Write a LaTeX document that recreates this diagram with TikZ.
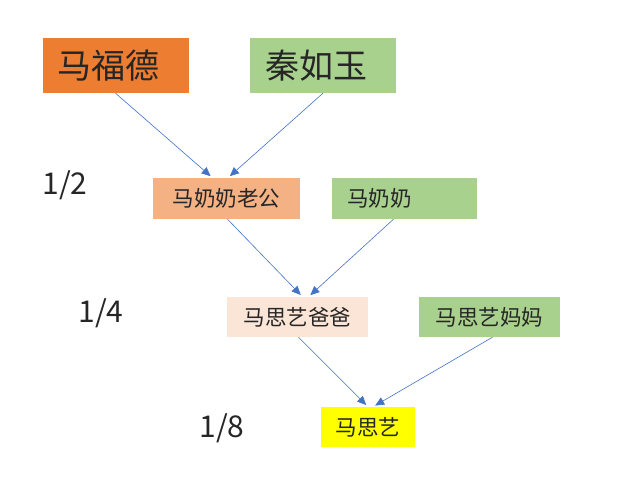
\documentclass[tikz,border=0pt]{standalone}
\usepackage{fontspec}
\newfontfamily\cjk{Noto Sans CJK SC}
\usetikzlibrary{arrows.meta}
\definecolor{orangebox}{HTML}{ED7D31}
\definecolor{greenbox}{HTML}{A9D18E}
\definecolor{peachbox}{HTML}{F4B183}
\definecolor{palebox}{HTML}{FBE5D6}
\definecolor{yellowbox}{HTML}{FFFF00}
\definecolor{linkblue}{HTML}{4472C4}
\definecolor{inktext}{HTML}{262626}
\tikzset{
  bigbox/.style={inner ysep=0pt, inner xsep=15pt, text width=116pt, align=left,
    minimum height=55pt, text=inktext, font=\cjk\fontsize{34pt}{36pt}\selectfont},
  smallbox/.style={inner sep=0pt, minimum width=143pt, minimum height=40pt,
    text=inktext, font=\cjk\fontsize{21.5pt}{24pt}\selectfont},
  ratio/.style={inner sep=0pt, text=inktext, font=\cjk\fontsize{30pt}{32pt}\selectfont},
  link/.style={draw=linkblue, line width=0.6pt,
    -{Triangle[length=9pt,width=8pt]}, shorten >=2.5pt}
}
\begin{document}
\begin{tikzpicture}[x=1pt,y=-1pt]
       \useasboundingbox[fill=white] (0,0) rectangle (640,486);
       % grandparents
       \node[bigbox, fill=orangebox] (mafude) at (115.5,65.5) {马福德};
       \node[bigbox, fill=greenbox] (qinruyu) at (323,65.5) {秦如玉};
       % second generation
       \node[smallbox, fill=peachbox, minimum width=147pt, minimum height=41pt] (laogong) at (226.5,198.5) {马奶奶老公};
       \node[smallbox, fill=greenbox, minimum height=41pt, inner xsep=15pt,
         text width=115pt, align=left] (nainai) at (404.5,198.5) {马奶奶};
       % third generation
       \node[smallbox, fill=palebox, minimum width=141pt] (baba) at (297.5,317) {马思艺爸爸};
       \node[smallbox, fill=greenbox, minimum width=141pt] (mama) at (489.5,317) {马思艺妈妈};
       % child
       \node[smallbox, fill=yellowbox, minimum width=94pt] (masiyi) at (368,427) {马思艺};
       % shares
       \node[ratio] (half) at (65,185) {1/2};
       \node[ratio] (quarter) at (101,313) {1/4};
       \node[ratio] (eighth) at (222,428) {1/8};
       \draw[link] (mafude.south) -- ([xshift=-14pt]laogong.north);
       \draw[link] (qinruyu.south) -- ([xshift=1.5pt]laogong.north);
       \draw[link] ([xshift=1pt]laogong.south) -- ([xshift=5pt]baba.north);
       \draw[link] ([xshift=-11pt]nainai.south) -- ([xshift=11pt]baba.north);
       \draw[link] ([xshift=1pt]baba.south) -- ([xshift=0pt]masiyi.north);
       \draw[link] ([xshift=3pt]mama.south) -- ([xshift=5pt]masiyi.north);
    \end{tikzpicture}
\end{document}
